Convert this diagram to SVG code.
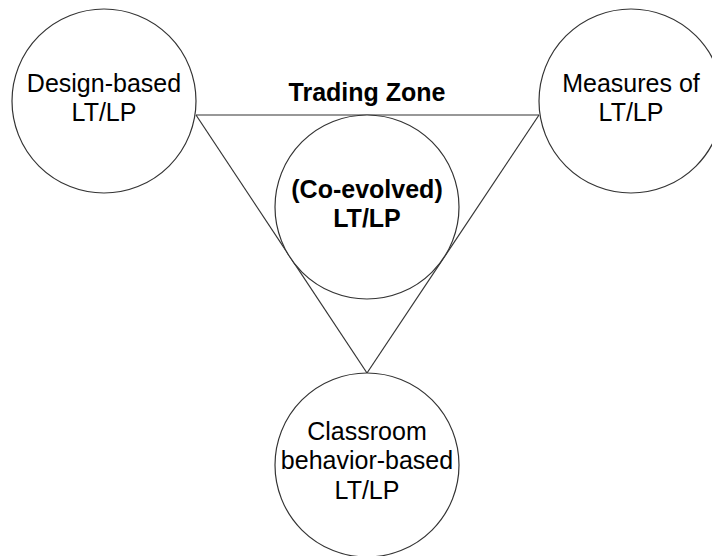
<svg xmlns="http://www.w3.org/2000/svg" width="712" height="556" viewBox="0 0 712 556">
<style>
.c{fill:#fff;stroke:#333;stroke-width:1.2}
.l{stroke:#333;stroke-width:1.2;fill:none}
.t{font-family:"Liberation Sans",Arial,sans-serif;font-size:25px;fill:#000;text-anchor:middle}
.b{font-weight:bold}
</style>
<rect width="712" height="556" fill="#fff"/>
<g id="connectors">
<line class="l" x1="196" y1="115" x2="539" y2="115"/>
<line class="l" x1="196" y1="115" x2="367" y2="373"/>
<line class="l" x1="539" y1="115" x2="367" y2="373"/>
</g>
<g id="trading-zone">
<text class="t b" x="367" y="101">Trading Zone</text>
</g>
<g id="design">
<circle class="c" cx="104" cy="101" r="92"/>
<text class="t" x="104" y="92">Design-based</text>
<text class="t" x="104" y="121">LT/LP</text>
</g>
<g id="measures">
<circle class="c" cx="631" cy="101" r="92"/>
<text class="t" x="631" y="92">Measures of</text>
<text class="t" x="631" y="121">LT/LP</text>
</g>
<g id="coevolved">
<circle class="c" cx="367" cy="207" r="92"/>
<text class="t b" x="367" y="198">(Co-evolved)</text>
<text class="t b" x="367" y="227">LT/LP</text>
</g>
<g id="classroom">
<circle class="c" cx="367" cy="465" r="92"/>
<text class="t" x="367" y="440">Classroom</text>
<text class="t" x="367" y="469">behavior-based</text>
<text class="t" x="367" y="499">LT/LP</text>
</g>
</svg>
